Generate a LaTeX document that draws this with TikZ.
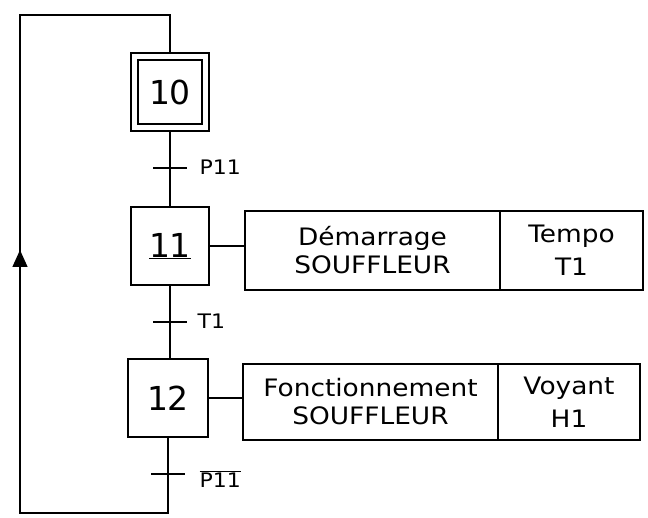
\documentclass[tikz,border=0pt]{standalone}
\usepackage{fontspec}
\usetikzlibrary{arrows.meta}
\newfontfamily\plotfont[FakeStretch=1.1]{DejaVu Sans}
\newfontfamily\stepfont{DejaVu Sans}
\begin{document}
\begin{tikzpicture}[x=1pt,y=-1pt,line width=1.4pt,
  stepbox/.style={draw,minimum width=78pt,minimum height=78pt,inner sep=0pt,
    font=\stepfont\fontsize{33}{33}\selectfont},
  actbox/.style={draw,minimum height=79pt,inner sep=0pt,align=center,
    font=\plotfont\fontsize{24}{28}\selectfont},
  rbox/.style={actbox,font=\plotfont\fontsize{24}{33}\selectfont},
  lbl/.style={anchor=west,inner sep=0pt,font=\plotfont\fontsize{20}{20}\selectfont},
  trbar/.style={line width=1.6pt}]
\useasboundingbox (0,0) rectangle (648,518);
% steps
\node[stepbox] (s10) at (170,92) {};
\node[draw,minimum width=64pt,minimum height=64pt,inner sep=0pt,
  font=\stepfont\fontsize{33}{33}\selectfont] (s10in) at (170,92) {10};
\node[stepbox] (s11) at (170,246) {\underline{11}};
\node[stepbox,minimum width=80pt] (s12) at (168,398) {12};
% action boxes
\node[actbox,minimum width=255pt] (a11) at (372.5,250.5) {Démarrage\\SOUFFLEUR};
\node[rbox,minimum width=143pt] (a11b) at (571.5,250.5) {Tempo\\T1};
\node[actbox,minimum width=255pt,minimum height=76pt] (a12) at (370.5,402) {Fonctionnement\\SOUFFLEUR};
\node[rbox,minimum width=142pt,minimum height=76pt] (a12b) at (569,402) {Voyant\\H1};
% step to action links
\draw (s11.east) -- (s11.east -| a11.west);
\draw (s12.east) -- (s12.east -| a12.west);
% transitions
\coordinate (t1) at (s10.south |- 0,168);
\coordinate (t2) at (s11.south |- 0,322);
\coordinate (t3) at (s12.south |- 0,474);
\draw (s10.south) -- (s11.north);
\draw (s11.south) -- (s11.south |- s12.north);
\draw[trbar] ([xshift=-17pt]t1) -- ([xshift=17pt]t1);
\draw[trbar] ([xshift=-17pt]t2) -- ([xshift=17pt]t2);
\draw[trbar] ([xshift=-17pt]t3) -- ([xshift=17pt]t3);
\node[lbl] (l1) at (199,167) {P11};
\node[lbl] (l2) at (197,321) {T1};
\node[lbl] (l3) at (199,479) {$\overline{\mbox{P11}}$};
% loop back
\coordinate (lb) at (20,513);
\coordinate (lt) at (20,15);
\coordinate (ar) at (20,250);
\coordinate (sb) at (s12.south |- lb);
\draw (s12.south) -- (sb) -- (lb) -- (lt) -| (s10.north);
\draw[-{Triangle[length=17pt,width=15pt]}] (lb) -- (ar);
\end{tikzpicture}
\end{document}
